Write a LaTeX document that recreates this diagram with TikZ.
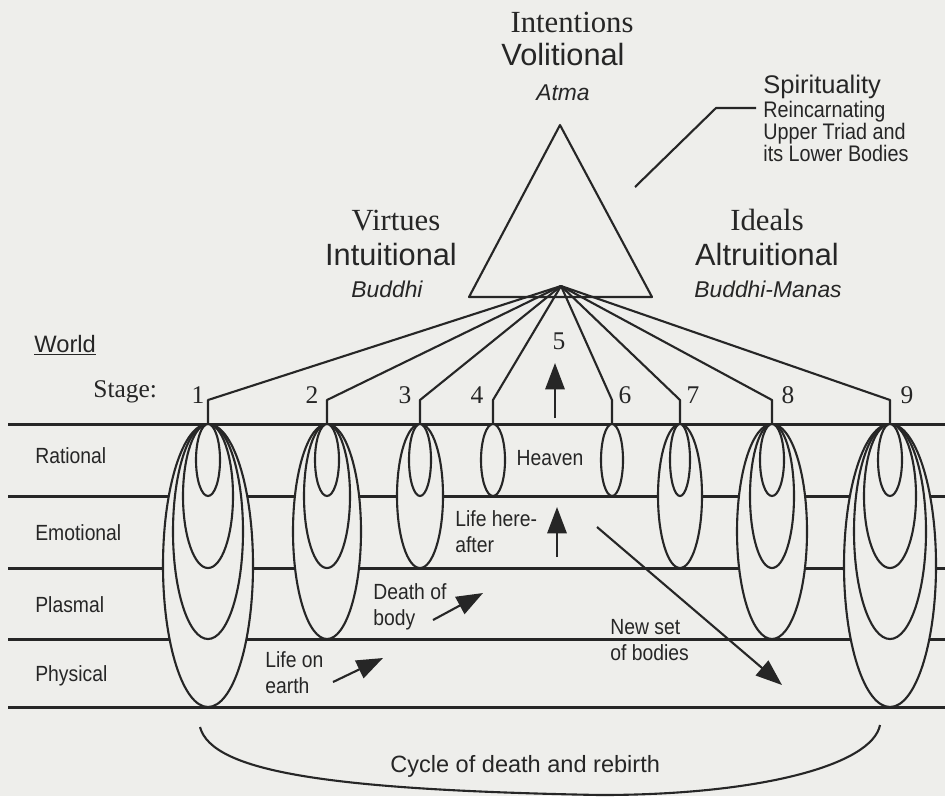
\documentclass[tikz,border=0pt]{standalone}
\usepackage{fontspec}
\setmainfont{Liberation Serif}
\setsansfont{Liberation Sans}
\newfontfamily\narrowsans[FakeStretch=0.88]{Liberation Sans}
\usetikzlibrary{arrows.meta}
\definecolor{Ink}{RGB}{38,38,38}
\definecolor{Paper}{RGB}{238,238,235}

\begin{document}
\begin{tikzpicture}[x=0.02cm,y=-0.02cm,
    level/.style={Ink,line width=1.7pt},
    shell/.style={draw=Ink,fill=Paper,line width=1.2pt},
    link/.style={Ink,line width=1.2pt,line join=round},
    arr/.style={-{Triangle[length=15pt,width=11pt]},Ink,line width=1.2pt},
    quality/.style={font=\fontsize{17.5}{19}\selectfont,anchor=base,text=Ink,inner sep=0pt},
    plane/.style={font=\sffamily\fontsize{17.5}{19}\selectfont,anchor=base,text=Ink,inner sep=0pt},
    skt/.style={font=\sffamily\itshape\fontsize{13}{15}\selectfont,anchor=base,text=Ink,inner sep=0pt},
    world/.style={font=\narrowsans\fontsize{12.5}{14}\selectfont,anchor=base west,text=Ink,inner sep=0pt},
    note/.style={font=\narrowsans\fontsize{12.5}{14.5}\selectfont,align=left,anchor=base west,text=Ink,inner sep=0pt},
    num/.style={font=\fontsize{14.5}{16}\selectfont,anchor=base,text=Ink,inner sep=0pt}
  ]
  \fill[Paper] (0,0) rectangle (945,796);
  \useasboundingbox (0,0) rectangle (945,796);

  % triad
  \coordinate (apex) at (560,125);
  \coordinate (hub) at (561,286);
  \draw[link] (apex) -- (469,297) -- (652,297) -- cycle;
  \node[quality] (intent) at (572,32) {Intentions};
  \node[plane] (volit) at (563,65) {Volitional};
  \node[skt] (atma) at (563,100) {Atma};
  \node[quality] (virt) at (396,230) {Virtues};
  \node[plane] (intuit) at (391,265) {Intuitional};
  \node[skt] (buddhi) at (387,297) {Buddhi};
  \node[quality] (ideal) at (767,230) {Ideals};
  \node[plane] (altru) at (767,265) {Altruitional};
  \node[skt] (manas) at (768,297) {Buddhi-Manas};

  % spirituality note (base = last line)
  \node[font=\sffamily\fontsize{14.5}{16}\selectfont,anchor=base west,text=Ink,inner sep=0pt] (spirit) at (763,93) {Spirituality};
  \node[font=\narrowsans\fontsize{12.8}{12.5}\selectfont,align=left,anchor=base west,text=Ink,inner sep=0pt] (reinc) at (763,161)
    {Reincarnating\\Upper Triad and\\its Lower Bodies};
  \coordinate (sp) at (635,187);
  \draw[link] (sp) -- (716,108) -- (756,108);

  % worlds
  \draw[level] (8,424) -- (945,424);
  \draw[level] (8,496) -- (945,496);
  \draw[level] (8,568) -- (945,568);
  \draw[level] (8,639) -- (945,639);
  \draw[level] (8,707) -- (945,707);
  \node[font=\sffamily\fontsize{13.5}{15}\selectfont,anchor=base west,text=Ink,inner sep=0pt] (world) at (34,352) {\underline{World}};
  \node[num,anchor=base west] (stage) at (93,397) {Stage:};
  \node[world] (rat) at (35,463) {Rational};
  \node[world] (emo) at (35,540) {Emotional};
  \node[world] (pla) at (35,612) {Plasmal};
  \node[world] (phy) at (35,681) {Physical};

  % stage tops
  \coordinate (st1) at (208,424);
  \coordinate (st2) at (327,424);
  \coordinate (st3) at (420,424);
  \coordinate (st4) at (493,424);
  \coordinate (st6) at (612,424);
  \coordinate (st7) at (680,424);
  \coordinate (st8) at (772,424);
  \coordinate (st9) at (890,424);

  % bodies
  \draw[shell] (st1) ++(0,141.5) ellipse [x radius=45,y radius=141.5];
  \draw[shell] (st1) ++(0,107.5) ellipse [x radius=35,y radius=107.5];
  \draw[shell] (st1) ++(0,72) ellipse [x radius=25,y radius=72];
  \draw[shell] (st1) ++(0,36) ellipse [x radius=12,y radius=36];
  \draw[shell] (st2) ++(0,107.5) ellipse [x radius=34,y radius=107.5];
  \draw[shell] (st2) ++(0,72) ellipse [x radius=23,y radius=72];
  \draw[shell] (st2) ++(0,36) ellipse [x radius=12,y radius=36];
  \draw[shell] (st3) ++(0,72) ellipse [x radius=23,y radius=72];
  \draw[shell] (st3) ++(0,36) ellipse [x radius=11,y radius=36];
  \draw[shell] (st4) ++(0,36) ellipse [x radius=12,y radius=36];
  \draw[shell] (st6) ++(0,36) ellipse [x radius=11,y radius=36];
  \draw[shell] (st7) ++(0,72) ellipse [x radius=22,y radius=72];
  \draw[shell] (st7) ++(0,36) ellipse [x radius=10,y radius=36];
  \draw[shell] (st8) ++(0,107.5) ellipse [x radius=35,y radius=107.5];
  \draw[shell] (st8) ++(0,72) ellipse [x radius=22,y radius=72];
  \draw[shell] (st8) ++(0,36) ellipse [x radius=12,y radius=36];
  \draw[shell] (st9) ++(0,141.5) ellipse [x radius=46,y radius=141.5];
  \draw[shell] (st9) ++(0,107.5) ellipse [x radius=36,y radius=107.5];
  \draw[shell] (st9) ++(0,72) ellipse [x radius=26,y radius=72];
  \draw[shell] (st9) ++(0,36) ellipse [x radius=12,y radius=36];

  % stage links to the triad
  \draw[link] (st1) -- ++(0,-24) -- (hub);
  \draw[link] (st2) -- ++(0,-24) -- (hub);
  \draw[link] (st3) -- ++(0,-24) -- (hub);
  \draw[link] (st4) -- ++(0,-24) -- (hub);
  \draw[link] (st6) -- ++(0,-24) -- (hub);
  \draw[link] (st7) -- ++(0,-24) -- (hub);
  \draw[link] (st8) -- ++(0,-24) -- (hub);
  \draw[link] (st9) -- ++(0,-24) -- (hub);
  \node[num] (n1) at (198,403) {1};
  \node[num] (n2) at (312,403) {2};
  \node[num] (n3) at (405,403) {3};
  \node[num] (n4) at (477,403) {4};
  \node[num] (n5) at (559,349) {5};
  \node[num] (n6) at (625,403) {6};
  \node[num] (n7) at (693,403) {7};
  \node[num] (n8) at (788,403) {8};
  \node[num] (n9) at (907,403) {9};

  % labels and arrows (two-line labels sit on their last line)
  \node[note,anchor=base] (heaven) at (550,465) {Heaven};
  \node[note] (after) at (455,552) {Life here-\\after};
  \node[note] (death) at (373,625) {Death of\\body};
  \node[note] (life) at (265,693) {Life on\\earth};
  \node[note] (newset) at (610,660) {New set\\of bodies};
  \coordinate (up1a) at (555,418);
  \coordinate (up1b) at (555,363);
  \coordinate (up2a) at (557,557);
  \coordinate (up2b) at (557,507);
  \coordinate (dth) at (483,593);
  \coordinate (lif) at (383,658);
  \coordinate (nsa) at (597,527);
  \coordinate (nsb) at (782,685);
  \draw[arr] (up1a) -- (up1b);
  \draw[arr] (up2a) -- (up2b);
  \draw[arr] (433,620) -- (dth);
  \draw[arr] (333,682) -- (lif);
  \draw[arr] (nsa) -- (nsb);

  % cycle
  \coordinate (cycL) at (200,727);
  \coordinate (cycR) at (880,725);
  \draw[link] (cycL) .. controls (212,772) and (330,790) .. (600,795)
              .. controls (760,795) and (872,765) .. (cycR);
  \node[font=\sffamily\fontsize{13.4}{15}\selectfont,anchor=base west,text=Ink,inner sep=0pt] (cycle) at (390,772)
    {Cycle of death and rebirth};
\end{tikzpicture}
\end{document}
